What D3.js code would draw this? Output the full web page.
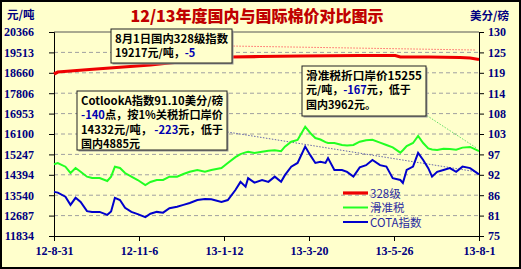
<!DOCTYPE html>
<html>
<head>
<meta charset="utf-8">
<script src="https://cdn.jsdelivr.net/npm/d3@7"></script>
<style>
	body { margin: 0; background: #fff; }
	svg { display: block; }
	.note { font-family: 'Noto Sans CJK SC', sans-serif; font-weight: bold; font-size: 11px; fill: #000; }
	.note .neg { fill: #0000b0; }
</style>
</head>
<body>
<div class="graphic__chart"></div>
<script>
const W = 521
const H = 269
const margin = { top: 32, right: 42, bottom: 33, left: 54 }

// series: 328级 (left axis, 元/吨)
const redDates = ['2012-08-31', '2012-09-03', '2012-09-13', '2012-09-28', '2012-10-14', '2012-10-30', '2012-11-15', '2012-11-26', '2012-12-08', '2012-12-20', '2013-01-01', '2013-01-17', '2013-02-09', '2013-03-13', '2013-04-29', '2013-05-27', '2013-05-31', '2013-06-23', '2013-07-17', '2013-07-25', '2013-08-01']
const redValues = [18609, 18693, 18735, 18798, 18860, 18923, 18986, 19049, 19111, 19195, 19279, 19320, 19341, 19362, 19383, 19383, 19320, 19320, 19299, 19279, 19217]

// 滑准税 (left axis) and COTA指数 (right axis) share dates
const dates = ['2012-08-31', '2012-09-03', '2012-09-09', '2012-09-13', '2012-09-17', '2012-09-21', '2012-09-26', '2012-09-30', '2012-10-06', '2012-10-12', '2012-10-15', '2012-10-18', '2012-10-22', '2012-10-26', '2012-10-31', '2012-11-05', '2012-11-11', '2012-11-15', '2012-11-20', '2012-11-25', '2012-11-30', '2012-12-06', '2012-12-11', '2012-12-16', '2012-12-22', '2012-12-28', '2013-01-02', '2013-01-10', '2013-01-15', '2013-01-21', '2013-01-25', '2013-01-29', '2013-01-31', '2013-02-05', '2013-02-11', '2013-02-16', '2013-02-21', '2013-02-26', '2013-03-01', '2013-03-06', '2013-03-11', '2013-03-17', '2013-03-21', '2013-03-25', '2013-03-29', '2013-04-02', '2013-04-04', '2013-04-09', '2013-04-15', '2013-04-19', '2013-04-24', '2013-04-29', '2013-05-04', '2013-05-09', '2013-05-15', '2013-05-20', '2013-05-25', '2013-05-31', '2013-06-02', '2013-06-05', '2013-06-10', '2013-06-14', '2013-06-18', '2013-06-22', '2013-06-25', '2013-06-29', '2013-07-04', '2013-07-09', '2013-07-14', '2013-07-19', '2013-07-25', '2013-08-01']
const greenValues = [14833, 14887, 14732, 14469, 14678, 14523, 14314, 14260, 14260, 14134, 14314, 14732, 14678, 14469, 14314, 14176, 13967, 14092, 14176, 14176, 14314, 14314, 14427, 14523, 14594, 14523, 14594, 14678, 14887, 15130, 15260, 15330, 15360, 15305, 15360, 15400, 15420, 15380, 15569, 15778, 15849, 16405, 16142, 15933, 15870, 15760, 15724, 15724, 15640, 15620, 15640, 15778, 15840, 15860, 15740, 15640, 15540, 15320, 15420, 15598, 15724, 16016, 15724, 15500, 15450, 15431, 15480, 15470, 15440, 15530, 15560, 15380]
const blueValues = [86.9, 86.7, 85.6, 83.4, 85.3, 84.2, 81.7, 81.5, 81.5, 80.7, 81.6, 85.3, 84.7, 82.6, 81.5, 80.9, 80.1, 81.0, 81.5, 81.3, 82.5, 82.9, 83.4, 83.9, 84.7, 85.0, 84.9, 84.2, 84.7, 87.4, 89.6, 88.3, 90.6, 89.4, 90.1, 89.6, 91.0, 89.6, 91.4, 93.7, 94.7, 99.1, 96.8, 94.7, 95.0, 94.7, 96.0, 92.8, 92.8, 92.3, 91.0, 93.5, 94.1, 95.5, 94.1, 93.7, 90.6, 90.1, 89.3, 92.8, 93.7, 97.4, 95.5, 93.3, 91.0, 92.3, 92.8, 93.3, 92.3, 93.7, 93.3, 91.6]

const leftTicks = [11834, 12687, 13540, 14394, 15247, 16100, 16953, 17806, 18660, 19513, 20366]
const rightTicks = [75, 81, 86, 92, 97, 103, 108, 114, 119, 125, 130]
const rightTickPos = d3.range(11).map(i => 75 + i * 5.5)
const xTicks = ['2012-08-31', '2012-11-06', '2013-01-12', '2013-03-20', '2013-05-26', '2013-08-01']
const xTickLabels = ['12-8-31', '12-11-6', '13-1-12', '13-3-20', '13-5-26', '13-8-1']
const seriesNames = ['328级', '滑准税', 'COTA指数']
const seriesColors = ['#ee0000', '#22ff22', '#0000cc']

const parse = d3.timeParse('%Y-%m-%d')

const svg = d3.select('.graphic__chart').append('svg')
	.attr('width', W)
	.attr('height', H)

svg.append('rect')
	.attr('x', 1).attr('y', 1)
	.attr('width', W - 2).attr('height', H - 2)
	.attr('fill', '#ffffcc')
	.attr('stroke', '#000')
	.attr('stroke-width', 2)

const width = W - margin.left - margin.right
const height = H - margin.top - margin.bottom
const g = svg.append('g').attr('transform', `translate(${margin.left},${margin.top})`)

const scale = {
	x: d3.scaleTime().domain([parse('2012-08-31'), parse('2013-08-01')]).range([0, width]),
	yL: d3.scaleLinear().domain([11834, 20366]).range([height, 0]),
	yR: d3.scaleLinear().domain([75, 130]).range([height, 0]),
}

// grid
g.append('g')
	.selectAll('line')
	.data(leftTicks.slice(1))
	.enter().append('line')
		.attr('x1', 0).attr('x2', width)
		.attr('y1', d => scale.yL(d)).attr('y2', d => scale.yL(d))
		.attr('stroke', (d, i) => i === 9 ? '#555' : '#a0a0a0')
		.attr('stroke-dasharray', (d, i) => i === 9 ? null : '4,3')

// axes
g.append('g')
	.attr('class', 'axis axis--yl')
	.call(d3.axisLeft(scale.yL).tickValues(leftTicks).tickSize(5).tickPadding(6).tickFormat(d => d))

g.append('g')
	.attr('class', 'axis axis--yr')
	.attr('transform', `translate(${width},0)`)
	.call(d3.axisRight(scale.yR).tickValues(rightTickPos).tickSize(5).tickPadding(4)
		.tickFormat((d, i) => rightTicks[i]))

g.append('g')
	.attr('class', 'axis axis--x')
	.attr('transform', `translate(0,${height})`)
	.call(d3.axisBottom(scale.x).tickValues(xTicks.map(parse)).tickSize(5).tickPadding(5)
		.tickFormat((d, i) => xTickLabels[i]))

svg.selectAll('.axis')
	.attr('font-family', 'Liberation Serif, serif')
	.attr('font-size', 12)
	.attr('font-weight', 'bold')
svg.selectAll('.axis .tick text').attr('fill', '#000080')
svg.selectAll('.axis .domain').attr('stroke', '#000')
svg.selectAll('.axis .tick line').attr('stroke', '#000')
svg.selectAll('.axis--yl .tick text').attr('dx', -9)

// units and title
svg.append('text')
	.attr('x', 7).attr('y', 19)
	.attr('font-family', 'Noto Sans CJK SC').attr('font-weight', 'bold').attr('font-size', 11.5)
	.attr('fill', '#000080')
	.text('元/吨')

svg.append('text')
	.attr('x', 470).attr('y', 20)
	.attr('font-family', 'Noto Sans CJK SC').attr('font-weight', 'bold').attr('font-size', 11.5)
	.attr('fill', '#000080')
	.text('美分/磅')

svg.append('text')
	.attr('x', 257).attr('y', 22)
	.attr('text-anchor', 'middle')
	.attr('font-family', 'Noto Sans CJK SC').attr('font-weight', 900).attr('font-size', 16)
	.attr('fill', '#c00000')
	.text('12/13年度国内与国际棉价对比图示')

// lines
const red = redDates.map((d, i) => ({ date: parse(d), v: redValues[i] }))
const green = dates.map((d, i) => ({ date: parse(d), v: greenValues[i] }))
const blue = dates.map((d, i) => ({ date: parse(d), v: blueValues[i] }))

const lineL = d3.line().x(d => scale.x(d.date)).y(d => scale.yL(d.v))
const lineR = d3.line().x(d => scale.x(d.date)).y(d => scale.yR(d.v))

// connector lines from the notes
const dotted = [
	{ pts: [['2013-01-17', 19780], ['2013-07-29', 19613]], axis: 'yL', color: '#ff6666' },
	{ pts: [['2013-01-10', 103.3], ['2013-07-30', 92.3]], axis: 'yR', color: '#6666aa' },
	{ pts: [['2013-06-19', 16937], ['2013-07-30', 15515]], axis: 'yL', color: '#66dd66' },
]
g.append('g')
	.selectAll('path')
	.data(dotted)
	.enter().append('path')
		.attr('d', d => d3.line().x(p => scale.x(parse(p[0]))).y(p => scale[d.axis](p[1]))(d.pts))
		.attr('fill', 'none')
		.attr('stroke', d => d.color)
		.attr('stroke-width', 1)
		.attr('stroke-dasharray', '1.5,1.5')

g.append('path').datum(green)
	.attr('d', lineL).attr('fill', 'none')
	.attr('stroke', seriesColors[1]).attr('stroke-width', 2)

g.append('path').datum(blue)
	.attr('d', lineR).attr('fill', 'none')
	.attr('stroke', seriesColors[2]).attr('stroke-width', 2)

g.append('path').datum(red)
	.attr('d', lineL).attr('fill', 'none')
	.attr('stroke', seriesColors[0]).attr('stroke-width', 3.2)

// notes; lines flagged with fit are stretched to the box width
function note(x, y, w, h, lines) {
	const n = svg.append('g')
	n.append('rect')
		.attr('x', x + 1.5).attr('y', y + 1.5).attr('width', w).attr('height', h)
		.attr('fill', '#999')
	n.append('rect')
		.attr('x', x).attr('y', y).attr('width', w).attr('height', h)
		.attr('fill', '#ffffcc').attr('stroke', '#222').attr('stroke-width', 1)
	lines.forEach((line, i) => {
		const t = n.append('text')
			.attr('class', 'note')
			.attr('x', x + 4)
			.attr('y', y + 14 + i * 14.3)
		if (line.fit) {
			t.attr('textLength', w - 8).attr('lengthAdjust', 'spacingAndGlyphs')
		}
		line.parts.forEach(p => {
			t.append('tspan').attr('class', p[1] ? 'neg' : null).text(p[0])
		})
	})
}

note(111, 29, 121, 34, [
	{ parts: [['8月1日国内328级指数']], fit: true },
	{ parts: [['19217元/吨，'], ['-5', 1]] },
])
note(77, 91, 150, 59, [
	{ parts: [['CotlookA指数91.10美分/磅']], fit: true },
	{ parts: [['-140', 1], ['点，按1%关税折口岸价']], fit: true },
	{ parts: [['14332元/吨， '], ['-223', 1], ['元，低于']], fit: true },
	{ parts: [['国内4885元']] },
])
note(302, 66, 124, 50, [
	{ parts: [['滑准税折口岸价15255']], fit: true },
	{ parts: [['元/吨，'], ['-167', 1], ['元，低于']] },
	{ parts: [['国内3962元。']] },
])

// legend
const legend = svg.append('g')
	.attr('transform', 'translate(343,193)')
	.selectAll('g')
	.data(seriesNames)
	.enter().append('g')
		.attr('transform', (d, i) => `translate(0,${i * 14.5})`)
legend.append('line')
	.attr('x1', 0).attr('x2', 25)
	.attr('stroke', (d, i) => seriesColors[i])
	.attr('stroke-width', (d, i) => i === 0 ? 3.2 : 2)
legend.append('text')
	.attr('x', 27).attr('y', 4.5)
	.attr('font-family', 'Noto Sans CJK SC').attr('font-size', 11.5)
	.attr('fill', '#2a2aa0')
	.text(d => d)
</script>
</body>
</html>
